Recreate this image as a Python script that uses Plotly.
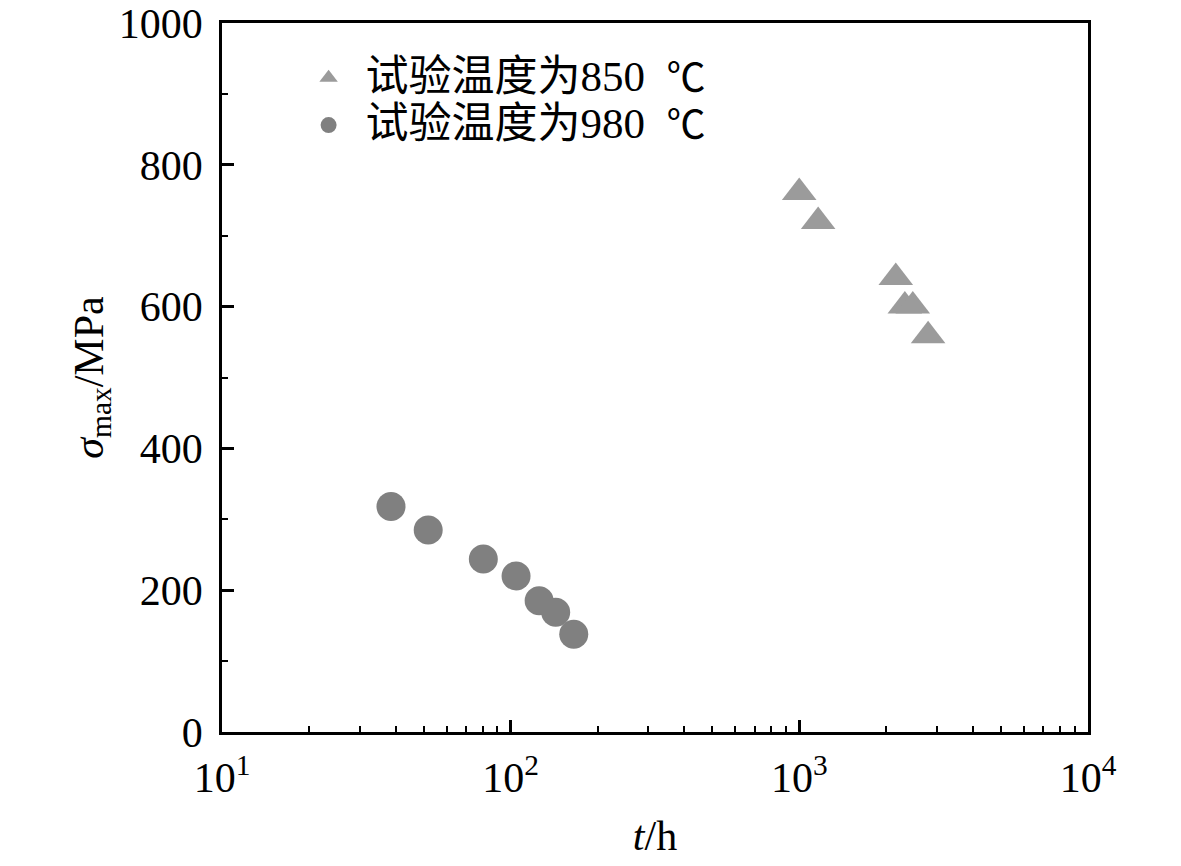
import plotly.graph_objects as go

# 850 ℃ test data (triangles)
t_850 = [999, 1162, 2158, 2320, 2472, 2793]
s_850 = [761, 720, 641, 601, 601, 559]

# 980 ℃ test data (circles)
t_980 = [38.5, 51.8, 80.4, 104.4, 125.5, 143.2, 165.4]
s_980 = [318, 285, 244, 220, 185, 169, 138]

x_ticks = [10, 100, 1000, 10000]
x_ticktext = ["10<sup>1</sup>", "10<sup>2</sup>", "10<sup>3</sup>", "10<sup>4</sup>"]
x_minor = [k * 10 ** e for e in range(1, 4) for k in range(2, 10)]

serif = "Liberation Serif, Times New Roman, serif"


def legend_name(temp):
    return ('\u00a0\u00a0<span style="font-family:Noto Sans CJK SC;font-size:43px">试验温度为</span>'
            '<span style="font-size:43px">' + temp + '\u00a0 </span>'
            '<span style="font-family:Noto Sans CJK SC;font-size:39px">℃</span>')


fig = go.Figure()
fig.add_trace(go.Scatter(
    x=t_850, y=s_850, mode="markers", name=legend_name("850"),
    marker=dict(symbol="triangle-up", size=30, color="#9b9b9b"),
))
fig.add_trace(go.Scatter(
    x=t_980, y=s_980, mode="markers", name=legend_name("980"),
    marker=dict(symbol="circle", size=29, color="#808080"),
))

axis_common = dict(
    showline=True, linecolor="black", linewidth=2.5, mirror=True,
    ticks="inside", tickcolor="black", tickwidth=2.5, ticklen=12,
    showgrid=False, zeroline=False, automargin=False,
    ticklabeloverflow="allow",
    tickfont=dict(family=serif, size=42, color="black"),
)

fig.update_xaxes(
    type="log", range=[1, 4],
    tickmode="array", tickvals=x_ticks, ticktext=x_ticktext,
    ticklabelstandoff=7,
    minor=dict(tickmode="array", tickvals=x_minor, ticks="inside",
               ticklen=6, tickwidth=2, tickcolor="black", showgrid=False),
    title=dict(text="<i>t</i>/h", font=dict(family=serif, size=42, color="black"),
               standoff=21),
    **axis_common,
)
fig.update_yaxes(
    range=[0, 1000], dtick=200,
    ticklabelstandoff=8,
    minor=dict(dtick=100, ticks="inside", ticklen=6, tickwidth=2,
               tickcolor="black", showgrid=False),
    title=dict(text="<i>σ</i><sub>max</sub>/MPa",
               font=dict(family=serif, size=42, color="black"), standoff=3),
    **axis_common,
)

fig.update_layout(
    width=1181, height=866,
    margin=dict(l=214, r=101, t=15, b=142),
    plot_bgcolor="white", paper_bgcolor="white",
    font=dict(family=serif, color="black"),
    legend=dict(
        x=0.1, y=0.963, xanchor="left", yanchor="top",
        bgcolor="rgba(0,0,0,0)",
        font=dict(family="Liberation Serif", size=34, color="black"),
        tracegroupgap=0, itemsizing="trace",
    ),
)

fig.write_html("out.html")
